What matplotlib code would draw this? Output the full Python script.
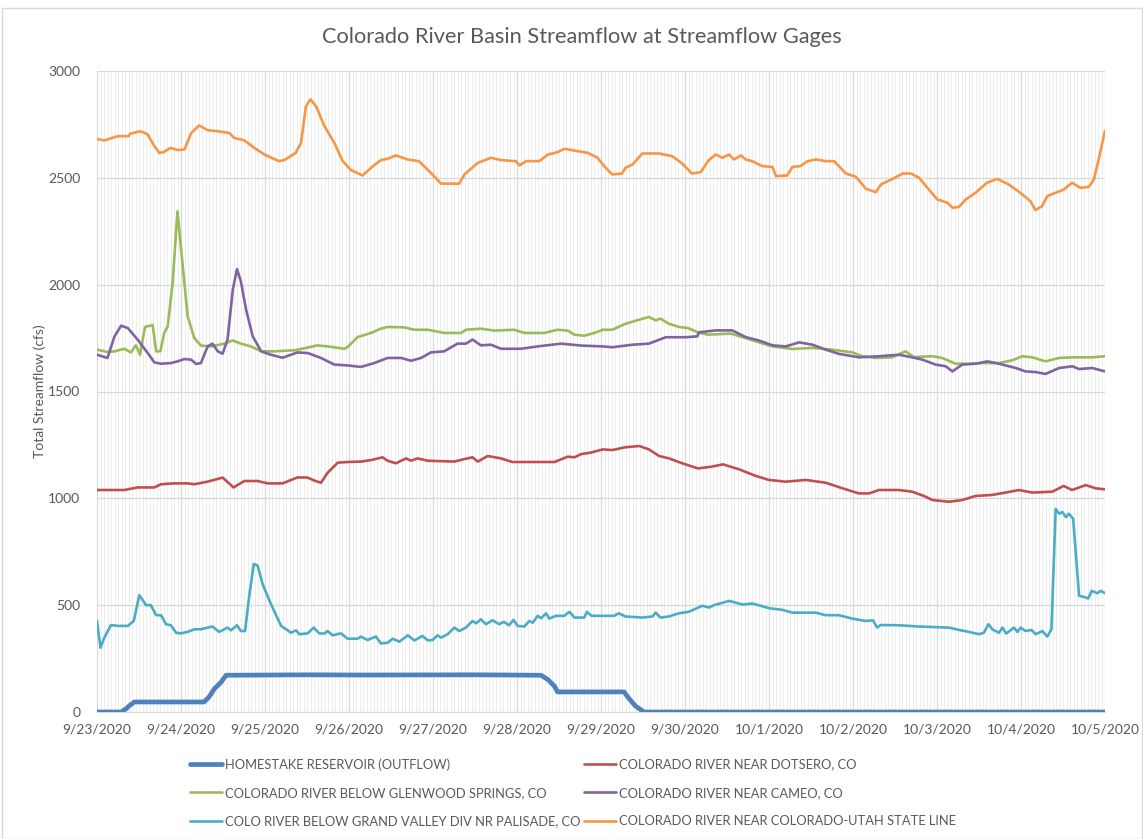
import matplotlib
matplotlib.use("Agg")
import matplotlib.pyplot as plt
from matplotlib.patches import Rectangle
import numpy as np

# ---------------- data (hours since 9/23/2020 00:00, cfs) ----------------
date_labels = ["9/23/2020", "9/24/2020", "9/25/2020", "9/26/2020", "9/27/2020",
               "9/28/2020", "9/29/2020", "9/30/2020", "10/1/2020", "10/2/2020",
               "10/3/2020", "10/4/2020", "10/5/2020"]

homestake_h = [0, 6.9, 8.3, 9.3, 10.7, 30.6, 32.0, 33.5, 35.4, 36.9, 60, 75, 108,
               126.9, 128.8, 130.7, 131.6, 150.6, 152.0, 153.9, 156.3, 288]
homestake_v = [0, 0, 15, 30, 47, 47, 70, 108, 139, 172, 174, 173, 174,
               172, 152, 121, 94, 94, 63, 27, 0, 0]

dotsero_h = [0, 7.8, 11.6, 16.4, 18.3, 22, 25.9, 27.8, 31.6, 35.9, 39, 42.1, 45.9, 48.8,
             53, 57.3, 60.2, 62.1, 64, 65.9, 68.8, 71.6, 75.4, 78.3, 81.6, 83, 85.4, 88.3,
             89.7, 91.6, 94.5, 102.1, 105, 107.3, 108.8, 111.6, 115.4, 118.7, 130.7, 134.5,
             136.4, 138.3, 141.1, 144.5, 147.2, 151, 154.9, 157.7, 160.6, 163.4, 167.2,
             171.7, 175.5, 178.9, 183.4, 188.2, 192, 196.8, 202.5, 208.2, 213, 217.7,
             220.6, 223.4, 229.1, 232.9, 236.3, 238.7, 243.4, 247.2, 251, 255.8, 259.6,
             263.4, 267.2, 272.9, 276.2, 278.6, 282.5, 285.3, 288]
dotsero_v = [1039, 1039, 1051, 1051, 1066, 1070, 1070, 1066, 1078, 1097, 1051, 1081, 1081, 1070,
             1070, 1098, 1097, 1083, 1073, 1120, 1167, 1170, 1172, 1179, 1192, 1176, 1164, 1187,
             1176, 1187, 1176, 1172, 1184, 1192, 1172, 1198, 1187, 1170, 1170, 1195,
             1192, 1207, 1214, 1229, 1226, 1239, 1245, 1229, 1198, 1187, 1164,
             1140, 1148, 1159, 1136, 1105, 1086, 1078, 1086, 1073, 1047, 1023,
             1023, 1039, 1039, 1031, 1011, 992, 984, 992, 1011, 1016, 1027,
             1039, 1027, 1031, 1058, 1039, 1062, 1047, 1042]

glenwood_h = [0, 3, 5, 7.8, 9.7, 11.1, 12.3, 13.7, 15.9, 16.9, 18.1, 19.2, 20.2, 21.6, 23,
              24.5, 25.9, 27.8, 29.7, 32.6, 36.4, 38.8, 41.1, 44, 46.9, 50.7, 56.4, 59.2,
              63, 65.9, 70.7, 71.6, 74.5, 78.3, 81.1, 83, 87.8, 90.7, 94.5, 99.2, 104,
              105.4, 109.7, 113.5, 119.2, 122.1, 127.8, 131.6, 134.5, 136.4, 139.2, 142.1,
              144.5, 147.2, 151, 154.9, 157.7, 159.6, 161, 163.4, 166.3, 168.8, 171.7,
              174.5, 181.1, 185.3, 189.1, 193, 198.7, 204.4, 210.1, 215.8, 218.7, 222.5,
              227.2, 231, 233.4, 238.7, 241.5, 245.3, 249.1, 253.9, 257.7, 261.5, 264.4,
              267.2, 271, 274.9, 279.6, 284.4, 288]
glenwood_v = [1696, 1685, 1688, 1700, 1683, 1716, 1672, 1802, 1811, 1688, 1688, 1774, 1805, 2008, 2343,
              2086, 1852, 1750, 1715, 1711, 1724, 1739, 1724, 1711, 1688, 1688, 1693, 1702,
              1716, 1711, 1700, 1708, 1755, 1774, 1794, 1802, 1800, 1789, 1789, 1774, 1774,
              1789, 1794, 1785, 1789, 1774, 1774, 1789, 1785, 1766, 1761, 1774,
              1789, 1789, 1817, 1836, 1849, 1833, 1841, 1817, 1802, 1797, 1777,
              1766, 1771, 1750, 1730, 1711, 1699, 1704, 1696, 1683, 1665, 1657,
              1660, 1688, 1661, 1665, 1657, 1630, 1630, 1633, 1633, 1646, 1665,
              1660, 1641, 1657, 1660, 1660, 1665]

cameo_h = [0, 3, 5, 6.9, 8.8, 11.6, 14.5, 16.4, 18.3, 21.1, 23, 25, 26.9, 28.3, 29.7, 31.6,
           33, 34.5, 35.9, 37.3, 38.8, 40, 41.1, 42.6, 44.5, 46.9, 49.7, 53, 57.3, 60.2,
           64, 67.8, 71.6, 75.4, 79.2, 83, 86.9, 89.7, 92.6, 95.4, 99.2, 103, 105.4, 107.3,
           109.7, 112.6, 115.4, 121.1, 125.9, 132.6, 138.3, 144.5, 147.2, 153, 157.7, 162.5,
           168.2, 171.5, 172, 176.8, 181.5, 185.3, 189.1, 193, 196.8, 200.6, 204.4, 208.2,
           212, 217.7, 223.4, 229.1, 232.9, 235.8, 239.6, 242.5, 244.4, 247.2, 251, 254.4,
           257.7, 262.5, 265.3, 268.2, 271, 274.9, 278.7, 280.6, 284.4, 288]
cameo_v = [1672, 1657, 1758, 1808, 1797, 1743, 1680, 1636, 1630, 1633, 1641, 1652, 1649, 1629, 1633, 1711,
           1724, 1688, 1677, 1743, 1977, 2073, 2016, 1883, 1758, 1688, 1672, 1658, 1683, 1680,
           1657, 1626, 1622, 1615, 1633, 1657, 1657, 1644, 1657, 1683, 1688, 1724, 1724, 1743,
           1716, 1719, 1700, 1700, 1711, 1724, 1715, 1711, 1707, 1719, 1724, 1754,
           1754, 1758, 1777, 1786, 1786, 1755, 1739, 1716, 1711, 1730, 1719, 1696,
           1676, 1660, 1665, 1672, 1660, 1649, 1626, 1618, 1594, 1626, 1630, 1641,
           1630, 1610, 1594, 1591, 1582, 1610, 1618, 1605, 1610, 1594]

palisade_h = [0, 1, 2.1, 4, 5.9, 8.8, 10.5, 12.1, 14, 15.4, 16.9, 18.3, 19.7, 21.1, 22.6, 24,
              25.9, 27.8, 29.7, 31.6, 33, 34.9, 37.3, 38.3, 40, 41.1, 42.3, 43.5, 44.8, 45.9,
              47.3, 49.7, 52.6, 54.5, 55.4, 56.9, 57.8, 60.2, 61.9, 63.5, 65, 65.9, 67.3, 69.7,
              71.6, 74.5, 75.4, 77.3, 79.7, 81.1, 83, 84.5, 86.4, 88.8, 90.7, 93, 94.5, 95.9,
              97.3, 98.3, 100.2, 102.1, 103.5, 105.4, 107.3, 108.3, 109.7, 111.1, 113, 114.9,
              116.3, 117.7, 119, 120.2, 122.1, 123.5, 124.5, 125.9, 126.9, 128.3, 129.2, 131.1,
              133.5, 135, 136.4, 139.2, 140, 141.3, 144.5, 147.7, 149.1, 151, 155.8, 158.7,
              159.6, 161, 163.4, 166.3, 169.1, 172.9, 174.9, 176.3, 180.6, 184.4, 187.2, 192,
              195.8, 198.7, 205.3, 208.2, 212, 215.8, 219.6, 221.7, 222.9, 223.9, 229.1, 234.9,
              243.4, 246.3, 249.1, 252, 253.4, 254.7, 255.8, 257.7, 258.7, 259.8, 262, 263,
              263.9, 265.3, 267, 268.2, 270.1, 271.5, 272.7, 273.9, 274.9, 275.8, 276.8, 277.7,
              278.9, 280.6, 282.5, 283.2, 284.2, 285.8, 286.8, 288]
palisade_v = [426, 301, 348, 407, 403, 403, 426, 547, 500, 500, 453, 453, 411, 406, 371, 368,
              375, 387, 387, 395, 400, 375, 395, 382, 406, 379, 379, 544, 693, 685,
              599, 505, 403, 382, 371, 382, 364, 368, 395, 368, 367, 379, 359, 368,
              343, 343, 353, 337, 353, 321, 324, 343, 329, 359, 335, 356, 335, 337,
              359, 348, 364, 395, 379, 395, 426, 415, 434, 411, 429, 411,
              422, 406, 431, 403, 400, 426, 418, 450, 439, 462, 437, 450,
              450, 469, 442, 442, 469, 450, 450, 450, 462, 447, 442, 447,
              465, 442, 447, 462, 469, 497, 489, 500, 520, 503, 508, 486,
              478, 465, 465, 453, 453, 437, 426, 429, 395, 407, 406, 400,
              395, 384, 375, 364, 371, 411, 387, 371, 395, 367, 395, 375,
              395, 379, 384, 364, 379, 353, 387, 951, 928, 936, 912, 928,
              904, 544, 536, 531, 567, 556, 567, 556]

stateline_h = [0, 2, 6, 9, 9.5, 12.5, 14.5, 16.4, 17.8, 19, 21, 23, 25, 26.9, 29.2, 31.6, 34.5,
               37.8, 39.2, 42, 45, 47.8, 52, 53.5, 56.8, 58.3, 59.7, 61, 62.6, 65, 67.8, 70.2,
               72.6, 75.9, 78.3, 81.1, 83, 85.4, 88.7, 92, 95.4, 98.3, 101, 103.5, 105, 108.8,
               112.6, 115.4, 119.7, 120.7, 122.6, 126.4, 128.8, 131.6, 133.5, 137.3, 140.2,
               143, 144.9, 147.2, 150, 151, 153, 155.8, 160.6, 164.4, 167.2, 170, 172.5,
               174.8, 176.8, 178.7, 180.6, 182, 184, 185.3, 187.2, 190, 193, 194, 197.2,
               198.7, 201, 203, 205.4, 208.2, 210.6, 214, 216.8, 219.7, 222.5, 224, 227.3,
               230.2, 232.5, 234.9, 237.7, 240.1, 243, 244.4, 246.3, 248.2, 251, 254.3, 257.2,
               260.5, 263.8, 266.7, 268.1, 270, 271.5, 273.4, 276.2, 278.6, 281, 283.4, 284.8,
               286.2, 288]
stateline_v = [2682, 2675, 2695, 2695, 2707, 2718, 2703, 2648, 2617, 2620, 2640, 2630, 2633, 2710, 2745, 2723, 2718,
               2710, 2687, 2676, 2640, 2609, 2578, 2583, 2617, 2664, 2835, 2867, 2835, 2742, 2664, 2578,
               2536, 2511, 2547, 2583, 2589, 2605, 2586, 2578, 2523, 2473, 2473, 2473, 2516, 2570,
               2594, 2583, 2578, 2558, 2578, 2578, 2609, 2620, 2636, 2625, 2617,
               2594, 2555, 2516, 2520, 2547, 2562, 2614, 2614, 2601, 2567, 2520, 2527,
               2583, 2609, 2594, 2609, 2586, 2605, 2586, 2578, 2555, 2551, 2508, 2511,
               2551, 2555, 2578, 2586, 2578, 2578, 2520, 2505, 2449, 2433, 2469, 2495,
               2520, 2520, 2500, 2445, 2399, 2383, 2360, 2364, 2399, 2430, 2477, 2495,
               2469, 2430, 2391, 2349, 2367, 2414, 2427, 2445, 2477, 2453, 2458, 2492,
               2586, 2720]

series = [
    ("HOMESTAKE RESERVOIR (OUTFLOW)", homestake_h, homestake_v, "#4F81BD", 3.4),
    ("COLORADO RIVER NEAR DOTSERO, CO", dotsero_h, dotsero_v, "#C0504D", 1.9),
    ("COLORADO RIVER BELOW GLENWOOD SPRINGS, CO", glenwood_h, glenwood_v, "#9BBB59", 1.9),
    ("COLORADO RIVER NEAR CAMEO, CO", cameo_h, cameo_v, "#8064A2", 1.9),
    ("COLO RIVER BELOW GRAND VALLEY DIV NR PALISADE, CO", palisade_h, palisade_v, "#4BACC6", 1.9),
    ("COLORADO RIVER NEAR COLORADO-UTAH STATE LINE", stateline_h, stateline_v, "#F79646", 1.9),
]

# ---------------- figure ----------------
plt.rcParams['font.family'] = ['Lato', 'DejaVu Sans']
W, H = 1143, 839
fig = plt.figure(figsize=(W / 100, H / 100), dpi=100)
ax = fig.add_axes([97 / W, 1 - 712 / H, (1105 - 97) / W, (712 - 71) / H])

# chart border
fig.patches.append(Rectangle((2 / W, 0.0), 1 - 3 / W, 1 - 8 / H, transform=fig.transFigure,
                             fill=False, edgecolor="#D9D9D9", lw=1.0))

handles = []
for name, h, v, c, lw in series:
    ln, = ax.plot(h, v, color=c, lw=lw, label=name, solid_joinstyle="round",
                  solid_capstyle="round", zorder=3)
    handles.append(ln)

ax.set_xlim(0, 288)
ax.set_ylim(0, 3000)
ax.set_xticks(np.arange(0, 289, 24))
ax.set_xticklabels(date_labels)
ax.set_xticks(np.arange(0, 289, 1), minor=True)
ax.set_yticks(np.arange(0, 3001, 500))
ax.grid(which="major", color="#D9D9D9", lw=0.9, zorder=0)
ax.grid(which="minor", axis="x", color="#E6E6E6", lw=0.5, zorder=0)
ax.tick_params(which="both", length=0, colors="#595959", labelsize=10, pad=8)
ax.tick_params(axis="y", pad=12)
for s in ["top", "right", "left"]:
    ax.spines[s].set_visible(False)
ax.spines["bottom"].set_color("#D9D9D9")

ax.set_ylabel("Total Streamflow (cfs)", color="#595959", fontsize=10)
ax.yaxis.set_label_coords(-51 / (1105 - 97), 0.5)
fig.text(582 / W, 1 - 37 / H, "Colorado River Basin Streamflow at Streamflow Gages",
         ha="center", va="center", fontsize=15.7, color="#595959")

order = [0, 2, 4, 1, 3, 5]
leg = fig.legend([handles[i] for i in order], [series[i][0] for i in order],
                 ncol=2, loc="upper left", bbox_to_anchor=(190 / W, 1 - 758 / H),
                 frameon=False, fontsize=9.3, handlelength=2.5, handletextpad=0.22,
                 columnspacing=0.25, labelspacing=1.27, borderaxespad=0, borderpad=0)
for t in leg.get_texts():
    t.set_color("#595959")

fig.savefig("out.png", dpi=100)
